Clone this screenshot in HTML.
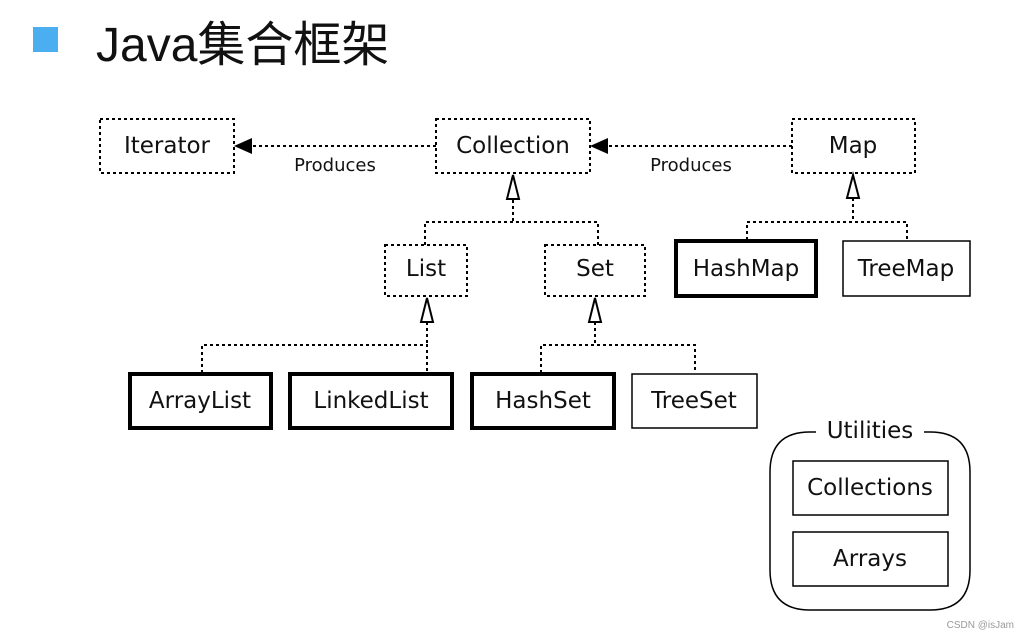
<!DOCTYPE html>
<html><head><meta charset="utf-8"><style>
body{margin:0;background:#fff;width:1021px;height:638px;overflow:hidden}
</style></head><body>
<svg width="1021" height="638" viewBox="0 0 1021 638" xmlns="http://www.w3.org/2000/svg" font-family="DejaVu Sans, Liberation Sans, sans-serif">
<rect x="33" y="27" width="25" height="25" fill="#4aaef0"/>
<text x="96" y="61" font-size="48" font-family="Liberation Sans, Noto Sans CJK SC, sans-serif" fill="#111">Java集合框架</text>
<g fill="none" stroke="#000" stroke-width="2" stroke-dasharray="3,3">
<rect x="100" y="119" width="134" height="54"/>
<rect x="436" y="119" width="154" height="54"/>
<rect x="792" y="119" width="123" height="54"/>
<rect x="385" y="245" width="82" height="51"/>
<rect x="545" y="245" width="100" height="51"/>
<path d="M436 146H250M792 146H606"/>
<path d="M513 200V222M425 245V222H598V245"/>
<path d="M853 198V222M747 240V222H907V240"/>
<path d="M427 322V345M202 373V345H427V373"/>
<path d="M595 322V345M541 373V345H695V373"/>
</g>
<g fill="#000"><path d="M234 146L252 138V154z"/><path d="M590 146L608 138V154z"/></g>
<g fill="#fff" stroke="#000" stroke-width="2">
<path d="M513 175L507 199H519z"/><path d="M853 175L847 198H859z"/>
<path d="M427 298L421 322H433z"/><path d="M595 298L589 322H601z"/>
</g>
<g fill="none" stroke="#000" stroke-width="4">
<rect x="676" y="241" width="140" height="55"/>
<rect x="130" y="374" width="141" height="54"/>
<rect x="290" y="374" width="162" height="54"/>
<rect x="472" y="374" width="142" height="54"/>
</g>
<g fill="none" stroke="#000" stroke-width="1.5">
<rect x="843" y="241" width="127" height="55"/>
<rect x="632" y="374" width="125" height="54"/>
<path d="M816 432H810Q770 432 770 472V570Q770 610 810 610H930Q970 610 970 570V472Q970 432 930 432H924"/>
<rect x="793" y="461" width="155" height="54"/>
<rect x="793" y="532" width="155" height="54"/>
</g>
<rect x="816" y="422" width="106" height="20" fill="#fff"/>
<g font-size="23" fill="#111" text-anchor="middle">
<text x="167" y="153">Iterator</text>
<text x="513" y="153">Collection</text>
<text x="853" y="153">Map</text>
<text x="426" y="276">List</text>
<text x="595" y="276">Set</text>
<text x="746" y="276">HashMap</text>
<text x="906" y="276">TreeMap</text>
<text x="200" y="408">ArrayList</text>
<text x="371" y="408">LinkedList</text>
<text x="543" y="408">HashSet</text>
<text x="694" y="408">TreeSet</text>
<text x="870" y="438">Utilities</text>
<text x="870" y="495">Collections</text>
<text x="870" y="566">Arrays</text>
</g>
<g font-size="18" fill="#111" text-anchor="middle">
<text x="335" y="171">Produces</text>
<text x="691" y="171">Produces</text>
</g>
<text x="1014" y="628" font-size="10" fill="#999" text-anchor="end" font-family="Liberation Sans, sans-serif">CSDN @isJam</text>
</svg>
</body></html>
